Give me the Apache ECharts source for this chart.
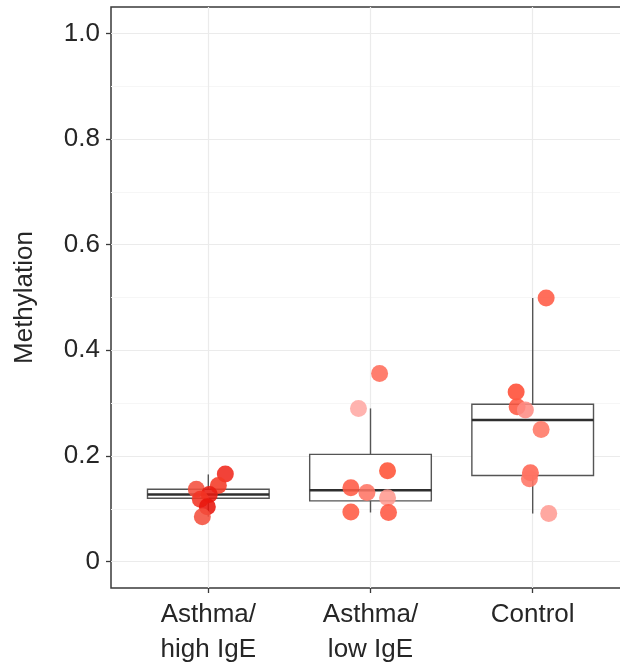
<!DOCTYPE html>
<html>
<head>
<meta charset="utf-8">
<script src="https://cdn.jsdelivr.net/npm/echarts@6/dist/echarts.min.js"></script>
<style>
  html, body { margin: 0; padding: 0; background: #fff; }
  #chart { width: 620px; height: 668px; }
</style>
</head>
<body>
<div id="chart"></div>
<script>
// Groups along the x axis
const categories = ['Asthma/\nhigh IgE', 'Asthma/\nlow IgE', 'Control'];

// Box summaries per group: [min, q1, median, q3, max]
const boxStats = [
  [0.085, 0.120, 0.127, 0.137, 0.165],
  [0.093, 0.115, 0.135, 0.203, 0.290],
  [0.091, 0.163, 0.268, 0.298, 0.499]
];

// Individual methylation values per group
const highIgE = [0.166, 0.144, 0.137, 0.127, 0.118, 0.104, 0.085];
const lowIgE = [0.356, 0.290, 0.172, 0.140, 0.131, 0.121, 0.094, 0.093];
const control = [0.499, 0.321, 0.293, 0.287, 0.250, 0.168, 0.157, 0.091];

// Horizontal jitter (in category units) for each point
const highJitter = [0.105, 0.062, -0.074, 0.006, -0.049, -0.006, -0.037];
const lowJitter = [0.056, -0.074, 0.105, -0.121, -0.022, 0.105, -0.121, 0.111];
const controlJitter = [0.083, -0.102, -0.096, -0.045, 0.052, -0.014, -0.020, 0.099];

// Point fill shades
const highColors = ['#f0281c', '#f43a26', '#f4503e', '#e81a10', '#f23424', '#e8160c', '#f4503e'];
const lowColors = ['#ff6c5a', '#ffa8a4', '#ff5236', '#ff5a44', '#ff7464', '#ff9a90', '#ff5a42', '#ff5842'];
const controlColors = ['#ff5a44', '#ff4c34', '#ff5842', '#ff8c84', '#ff7664', '#ff6452', '#ff7464', '#ff9c94'];

// Axis ticks
const yTicks = [0, 0.2, 0.4, 0.6, 0.8, 1.0];
const yMinorGrid = [0.1, 0.3, 0.5, 0.7, 0.9];
const xTicks = [1, 2, 3];

const groups = [
  { values: highIgE, jitter: highJitter, colors: highColors },
  { values: lowIgE, jitter: lowJitter, colors: lowColors },
  { values: control, jitter: controlJitter, colors: controlColors }
];

const pointData = [];
groups.forEach((g, gi) => {
  g.values.forEach((v, i) => {
    pointData.push({
      value: [xTicks[gi] + g.jitter[i], v],
      itemStyle: { color: g.colors[i] }
    });
  });
});

const boxData = boxStats.map((s, i) => [xTicks[i]].concat(s));

const FONT = '"Liberation Sans", Arial, Helvetica, sans-serif';
const TEXT = '#262626';
const AXIS = '#3a3a3a';
const BOX = '#555555';

const chart = echarts.init(document.getElementById('chart'), null, { renderer: 'canvas' });

chart.setOption({
  animation: false,
  backgroundColor: '#ffffff',
  grid: {
    left: 111,
    right: -10,
    top: 7,
    bottom: 80,
    outerBoundsMode: 'none',
    containLabel: false,
    show: true,
    backgroundColor: '#ffffff',
    borderColor: AXIS,
    borderWidth: 1.5
  },
  xAxis: {
    type: 'value',
    min: 0.4,
    max: 3.6,
    axisLine: { show: false, onZero: false },
    splitLine: { show: false },
    axisTick: {
      show: true,
      customValues: xTicks,
      length: 5,
      lineStyle: { color: AXIS, width: 1.3 }
    },
    axisLabel: {
      customValues: xTicks,
      formatter: v => categories[Math.round(v) - 1] || '',
      fontFamily: FONT,
      fontSize: 26,
      color: TEXT,
      lineHeight: 35,
      margin: 9
    }
  },
  yAxis: {
    type: 'value',
    min: -0.05,
    max: 1.05,
    name: 'Methylation',
    nameLocation: 'middle',
    nameGap: 73,
    nameTextStyle: { fontFamily: FONT, fontSize: 26, color: TEXT },
    axisLine: { show: false, onZero: false },
    splitLine: { show: false },
    axisTick: {
      show: true,
      customValues: yTicks,
      length: 5,
      lineStyle: { color: AXIS, width: 1.3 }
    },
    axisLabel: {
      customValues: yTicks,
      formatter: v => (Math.abs(v) < 1e-9 ? '0' : v.toFixed(1)),
      fontFamily: FONT,
      fontSize: 26,
      color: TEXT,
      margin: 11
    }
  },
  series: [
    {
      // panel grid lines
      type: 'line',
      data: [],
      silent: true,
      z: 1,
      markLine: {
        silent: true,
        z: 1,
        symbol: 'none',
        label: { show: false },
        animation: false,
        data: [
          ...yMinorGrid.map(v => ({ yAxis: v, lineStyle: { color: '#f6f6f6', width: 1, type: 'solid' } })),
          ...yTicks.map(v => ({ yAxis: v, lineStyle: { color: '#ebebeb', width: 1.2, type: 'solid' } })),
          ...xTicks.map(v => ({ xAxis: v, lineStyle: { color: '#ebebeb', width: 1.2, type: 'solid' } }))
        ]
      }
    },
    {
      type: 'custom',
      z: 10,
      data: boxData,
      encode: { x: 0, y: [1, 2, 3, 4, 5] },
      renderItem: (params, api) => {
        const x = api.value(0);
        const pMin = api.coord([x, api.value(1)]);
        const pQ1 = api.coord([x, api.value(2)]);
        const pMed = api.coord([x, api.value(3)]);
        const pQ3 = api.coord([x, api.value(4)]);
        const pMax = api.coord([x, api.value(5)]);
        const halfW = api.size([0.75, 0])[0] / 2;
        const cx = pMed[0];
        return {
          type: 'group',
          children: [
            { type: 'line', shape: { x1: cx, y1: pQ3[1], x2: cx, y2: pMax[1] }, style: { stroke: BOX, lineWidth: 1.4 } },
            { type: 'line', shape: { x1: cx, y1: pQ1[1], x2: cx, y2: pMin[1] }, style: { stroke: BOX, lineWidth: 1.4 } },
            { type: 'rect', shape: { x: cx - halfW, y: pQ3[1], width: 2 * halfW, height: pQ1[1] - pQ3[1] }, style: { stroke: BOX, lineWidth: 1.4, fill: '#ffffff' } },
            { type: 'line', shape: { x1: cx - halfW, y1: pMed[1], x2: cx + halfW, y2: pMed[1] }, style: { stroke: '#2e2e2e', lineWidth: 2.6 } }
          ]
        };
      }
    },
    {
      type: 'scatter',
      z: 11,
      symbolSize: 17,
      data: pointData,
      itemStyle: { opacity: 0.88 }
    }
  ]
});
</script>
</body>
</html>
